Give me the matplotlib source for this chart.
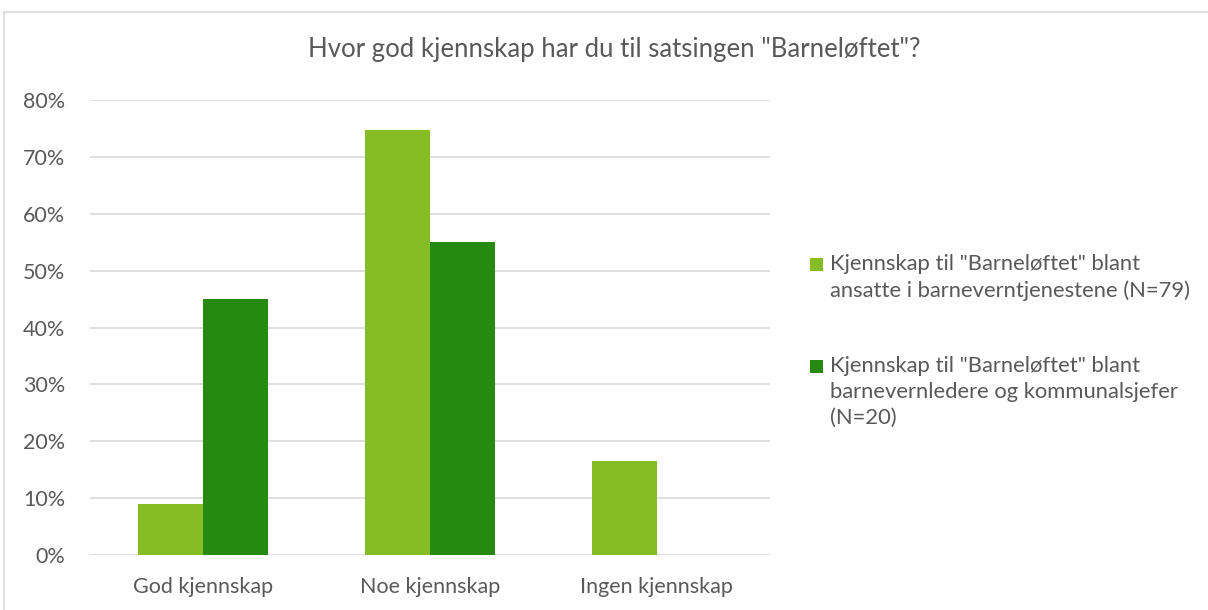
import matplotlib
matplotlib.use("Agg")
import matplotlib.pyplot as plt
from matplotlib.patches import Rectangle
import numpy as np

plt.rcParams['font.family'] = ['Lato', 'DejaVu Sans']

categories = ["God kjennskap", "Noe kjennskap", "Ingen kjennskap"]
ansatte = [0.089, 0.747, 0.165]
ledere = [0.45, 0.55, 0.0]
series_labels = ['Kjennskap til "Barneløftet" blant\nansatte i barneverntjenestene (N=79)',
                 'Kjennskap til "Barneløftet" blant\nbarnevernledere og kommunalsjefer\n(N=20)']
yticks = [0, 0.1, 0.2, 0.3, 0.4, 0.5, 0.6, 0.7, 0.8]
ytick_labels = ["0%", "10%", "20%", "30%", "40%", "50%", "60%", "70%", "80%"]
title = 'Hvor god kjennskap har du til satsingen "Barneløftet"?'

light = "#86BC25"
dark = "#268A10"
text_col = "#595959"

fig = plt.figure(figsize=(12.08, 6.10), dpi=100)
fig.patches.append(Rectangle((4/1208, -0.01), 1.1, 1 - 12/610 + 0.01, transform=fig.transFigure,
                             fill=False, edgecolor="#D9D9D9", linewidth=1.2))
ax = fig.add_axes([90/1208, 1 - 555/610, 680/1208, 455/610])

x = np.arange(len(categories))
w = 0.287
b1 = ax.bar(x - w/2, ansatte, w, color=light, label=series_labels[0])
b2 = ax.bar(x + w/2, ledere, w, color=dark, label=series_labels[1])

ax.set_xlim(-0.5, 2.5)
ax.set_ylim(0, 0.8)
ax.set_yticks(yticks)
ax.set_yticklabels(ytick_labels)
ax.set_xticks(x)
ax.set_xticklabels(categories)
ax.grid(axis='y', color="#D9D9D9", linewidth=1.2)
ax.set_axisbelow(True)
for s in ax.spines.values():
    s.set_visible(False)
ax.tick_params(axis='both', length=0, labelsize=15.5, colors=text_col)
ax.tick_params(axis='y', pad=18)
ax.tick_params(axis='x', pad=16)

fig.text(614/1208, 1 - 50/610, title, ha='center', va='center', fontsize=18.5, color=text_col)

# legend drawn manually so the swatch aligns with the first line (as in the reference)
first_line_y = [264, 366]
colors = [light, dark]
for lab, c, y0 in zip(series_labels, colors, first_line_y):
    fig.patches.append(Rectangle((810/1208, 1 - (y0 + 6.5)/610), 13/1208, 13/610,
                                 transform=fig.transFigure, facecolor=c, edgecolor='none'))
    fig.text(830/1208, 1 - (y0 - 10)/610, lab, ha='left', va='top', fontsize=15.8,
             color=text_col, linespacing=1.37)

fig.savefig("out.png", dpi=100)
